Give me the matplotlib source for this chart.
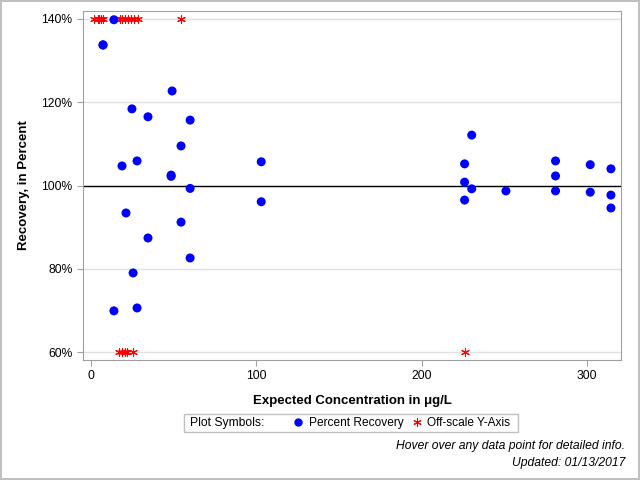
import matplotlib
matplotlib.use("Agg")
import matplotlib.pyplot as plt
from matplotlib.lines import Line2D
from matplotlib.patches import Rectangle
from matplotlib.ticker import FuncFormatter

plt.rcParams["font.family"] = ["Liberation Sans", "DejaVu Sans"]

# Percent recovery points (expected concentration ug/L, recovery %)
conc = [13.9, 7.3, 7.3, 49.1, 24.8, 34.5, 60.0, 54.5, 18.8, 27.9, 48.5, 48.5,
        60.0, 21.2, 34.5, 54.5, 60.0, 25.5, 13.9, 27.9, 103.0, 103.0,
        226.0, 226.0, 226.0, 230.3, 230.3, 251.0, 281.0, 281.0, 281.0,
        302.0, 302.0, 314.5, 314.5, 314.5]
recovery = [139.8, 133.8, 133.7, 122.7, 118.4, 116.5, 115.7, 109.5, 104.7, 105.9,
            102.5, 102.2, 99.3, 93.4, 87.4, 91.2, 82.6, 79.0, 69.9, 70.6,
            105.7, 96.1, 105.2, 100.8, 96.5, 112.1, 99.2, 98.7, 105.9, 102.3,
            98.7, 105.0, 98.4, 104.0, 97.7, 94.6]

# Off-scale values, pinned to the axis limits
off_conc = [2.0, 4.0, 5.0, 6.0, 7.5, 17.6, 18.8, 20.6, 22.4, 24.2, 26.0, 28.5, 54.5,
            17.0, 19.0, 20.5, 22.0, 25.5, 226.0]
off_value = [140, 140, 140, 140, 140, 140, 140, 140, 140, 140, 140, 140, 140,
             60, 60, 60, 60, 60, 60]

y_ticks = [60, 80, 100, 120, 140]
x_ticks = [0, 100, 200, 300]

fig = plt.figure(figsize=(6.4, 4.8), dpi=100)
fig.patch.set_edgecolor("#c0c0c0")
fig.patch.set_linewidth(1.5)
ax = fig.add_axes([83 / 640, 120 / 480, 538 / 640, 349 / 480])

for y in y_ticks:
    ax.axhline(y, color="#e0e0e0", lw=1, zorder=0)
ax.axhline(100, color="black", lw=1, zorder=1)

star = (6, 2, 0)
ax.scatter(off_conc, off_value, marker=star, s=32, color="red", lw=0.8,
           zorder=3, clip_on=False)
ax.scatter(conc, recovery, s=42, color="blue", edgecolors="none", zorder=4)

ax.set_xlim(-4.8, 320.6)
ax.set_ylim(58.1, 141.9)
ax.set_xticks(x_ticks)
ax.set_yticks(y_ticks)
ax.yaxis.set_major_formatter(FuncFormatter(lambda v, p: f"{v:.0f}%"))
ax.tick_params(labelsize=8.7, color="#a0a0a0", length=4)
for s in ax.spines.values():
    s.set_color("#a0a0a0")

ax.set_xlabel("Expected Concentration in \u03bcg/L", fontsize=9.5, fontweight="bold",
              labelpad=9)
ax.set_ylabel("Recovery, in Percent", fontsize=9.5, fontweight="bold", labelpad=8)

# legend box
fig.patches.append(Rectangle((184 / 640, 1 - 432 / 480), 334 / 640, 18 / 480,
                             transform=fig.transFigure, fill=False,
                             edgecolor="#c0c0c0", lw=1))
fig.text(190 / 640, 1 - 423 / 480, "Plot Symbols:", fontsize=8.7, va="center")
handles = [
    Line2D([], [], marker="o", ls="none", color="blue", markersize=5),
    Line2D([], [], marker=star, ls="none", color="red", markersize=6, mew=0.8),
]
fig.legend(handles, ["Percent Recovery", "Off-scale Y-Axis"], ncol=2,
           loc="center left", bbox_to_anchor=(286 / 640, 1 - 423 / 480),
           frameon=False, fontsize=8.6, handlelength=1.0, handletextpad=0.4,
           columnspacing=0.6, borderpad=0)

fig.text(625 / 640, 1 - 446 / 480, "Hover over any data point for detailed info.",
         fontsize=8.7, style="italic", ha="right", va="center")
fig.text(625 / 640, 1 - 463 / 480, "Updated: 01/13/2017",
         fontsize=8.7, style="italic", ha="right", va="center")

fig.savefig("out.png", dpi=100)
